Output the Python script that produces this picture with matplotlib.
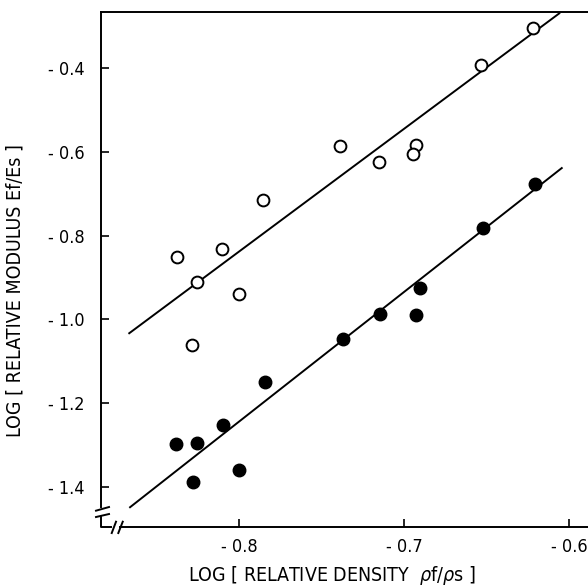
import numpy as np
import matplotlib
matplotlib.use('Agg')
import matplotlib.pyplot as plt

plt.rcParams['font.family'] = ['DejaVu Sans']
plt.rcParams['font.stretch'] = 'condensed'
plt.rcParams['mathtext.fontset'] = 'dejavusans'

# open circles (upper series)
open_x = [-0.8378, -0.8253, -0.8105, -0.7853, -0.7998, -0.8287,
          -0.7388, -0.7150, -0.6927, -0.6944, -0.6535, -0.6216]
open_y = [-0.851, -0.910, -0.831, -0.716, -0.940, -1.060,
          -0.587, -0.624, -0.583, -0.605, -0.393, -0.304]

# filled circles (lower series)
filled_x = [-0.8384, -0.8256, -0.8095, -0.7842, -0.8277, -0.8000,
            -0.7372, -0.7145, -0.6927, -0.6903, -0.6523, -0.6206]
filled_y = [-1.298, -1.294, -1.252, -1.149, -1.388, -1.359,
            -1.046, -0.986, -0.990, -0.924, -0.782, -0.678]

# fitted lines (end points)
open_line_x = [-0.8665, -0.6059]
open_line_y = [-1.033, -0.270]
filled_line_x = [-0.8660, -0.6044]
filled_line_y = [-1.448, -0.639]

xticks = [-0.8, -0.7, -0.6]
xtick_labels = ['- 0.8', '- 0.7', '- 0.6']
yticks = [-1.4, -1.2, -1.0, -0.8, -0.6, -0.4]
ytick_labels = ['- 1.4', '- 1.2', '- 1.0', '- 0.8', '- 0.6', '- 0.4']

xmin, xmax = -0.8836, -0.5885
ymin, ymax = -1.4952, -0.2667

fig = plt.figure(figsize=(5.88, 5.87), dpi=100)
ax = fig.add_axes([0.1718, 0.1022, 0.8282, 0.8774])

ax.plot(open_line_x, open_line_y, color='black', lw=1.4)
ax.plot(filled_line_x, filled_line_y, color='black', lw=1.4)
ax.plot(open_x, open_y, 'o', ms=8.5, mfc='white', mec='black', mew=1.4)
ax.plot(filled_x, filled_y, 'o', ms=9, mfc='black', mec='black')

ax.set_xlim(xmin, xmax)
ax.set_ylim(ymin, ymax)

ax.set_xticks(xticks)
ax.set_xticklabels(xtick_labels)
ax.set_yticks(yticks)
ax.set_yticklabels(ytick_labels)
ax.tick_params(direction='in', length=6, width=1.2, labelsize=13)
ax.tick_params(axis='x', pad=8)
ax.tick_params(axis='y', pad=12)

# spines: no right spine, left/bottom stop short of the corner for the break
ax.spines['right'].set_visible(False)
for s in ['left', 'bottom', 'top']:
    ax.spines[s].set_linewidth(1.4)
ax.spines['left'].set_bounds(ymin + 0.0388 * (ymax - ymin), ymax)
ax.spines['bottom'].set_bounds(xmin + 0.040 * (xmax - xmin), xmax)

# axis break marks in the lower-left corner
brk = dict(color='black', lw=1.4, transform=ax.transAxes, clip_on=False)
ax.plot([-0.0103, 0.0164], [0.0317, 0.0388], **brk)
ax.plot([-0.0103, 0.0164], [0.0194, 0.0252], **brk)
ax.plot([0, 0, 0.0205], [0.0194, 0, 0], **brk)
ax.plot([0.0220, 0.0308], [-0.0117, 0.0103], **brk)
ax.plot([0.0355, 0.0446], [-0.0117, 0.0103], **brk)

ax.set_xlabel(r'LOG [ RELATIVE DENSITY  $\rho$f/$\rho$s ]', fontsize=14)
ax.set_ylabel('LOG [ RELATIVE MODULUS Ef/Es ]', fontsize=14)
ax.xaxis.set_label_coords(0.475, -0.072)
ax.yaxis.set_label_coords(-0.158, 0.46)

plt.savefig('out.png', dpi=100)
